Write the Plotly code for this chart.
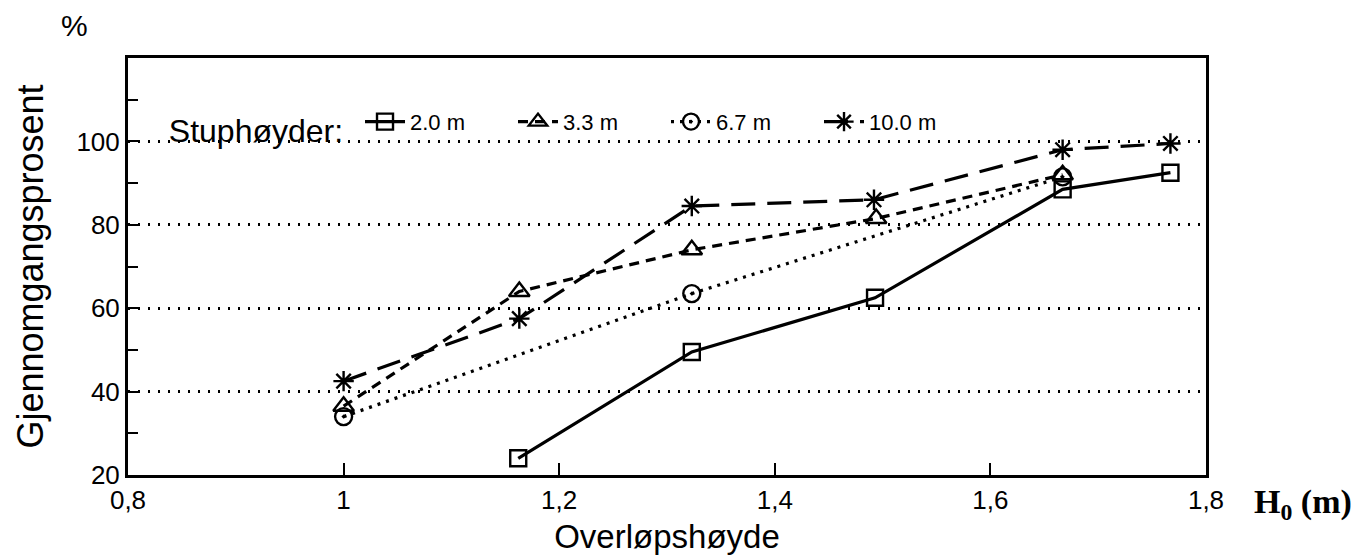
import plotly.graph_objects as go

# ---- data ----
series_names = ["2.0 m", "3.3 m", "6.7 m", "10.0 m"]

x_2_0 = [1.162, 1.323, 1.493, 1.667, 1.767]
y_2_0 = [24.0, 49.5, 62.5, 88.5, 92.5]

x_3_3 = [1.0, 1.163, 1.323, 1.494, 1.667]
y_3_3 = [36.5, 64.0, 74.0, 81.5, 92.0]

x_6_7 = [1.0, 1.323, 1.667]
y_6_7 = [34.0, 63.5, 91.5]

x_10_0 = [1.0, 1.163, 1.323, 1.492, 1.667, 1.767]
y_10_0 = [42.5, 57.5, 84.5, 86.0, 98.0, 99.5]

x_tick_vals = [0.8, 1.0, 1.2, 1.4, 1.6, 1.8]
x_tick_text = ["0,8", "1", "1,2", "1,4", "1,6", "1,8"]
y_tick_vals = [20, 40, 60, 80, 100]
y_minor_vals = [30, 50, 70, 90, 110]

# ---- styles ----
FONT = "Liberation Sans, Arial, Helvetica, sans-serif"
styles = [
    dict(dash="solid", symbol="square-open", size=16),
    dict(dash="10px,7px", symbol="triangle-up-open", size=18),
    dict(dash="3px,6px", symbol="circle-open-dot", size=17),
    dict(dash="24px,12px", symbol="asterisk-open", size=17),
]
xs = [x_2_0, x_3_3, x_6_7, x_10_0]
ys = [y_2_0, y_3_3, y_6_7, y_10_0]

fig = go.Figure()
for name, x, y, st in zip(series_names, xs, ys, styles):
    fig.add_trace(go.Scatter(
        x=x, y=y, name=name, mode="lines+markers",
        line=dict(color="black", width=3.2, dash=st["dash"]),
        marker=dict(symbol=st["symbol"], size=st["size"], color="black",
                    line=dict(color="black", width=2.4)),
    ))

fig.update_layout(
    width=1370, height=559,
    margin=dict(l=128, r=164, t=58, b=84),
    paper_bgcolor="white", plot_bgcolor="white",
    font=dict(family=FONT, color="black"),
    showlegend=True,
    legend=dict(
        orientation="h", x=0.036, y=0.835, xanchor="left", yanchor="middle",
        bgcolor="rgba(0,0,0,0)",
        title=dict(text="Stuphøyder: ", side="left", font=dict(size=32, family=FONT)),
        font=dict(size=22, family=FONT),
        entrywidth=98, entrywidthmode="pixels",
        itemwidth=40,
    ),
    xaxis=dict(
        range=[0.8, 1.8], tickmode="array", tickvals=x_tick_vals, ticktext=x_tick_text,
        ticks="inside", ticklen=12, tickwidth=2, tickcolor="black",
        showline=True, linecolor="black", linewidth=3, mirror=True,
        showgrid=False, zeroline=False,
        tickfont=dict(size=26, family=FONT),
        title=dict(text="Overløpshøyde", font=dict(size=33, family=FONT), standoff=11),
        automargin=False,
    ),
    yaxis=dict(
        range=[20, 120], tickmode="array", tickvals=y_tick_vals,
        ticks="inside", ticklen=12, tickwidth=2, tickcolor="black",
        minor=dict(tickvals=y_minor_vals, ticks="inside", ticklen=10, tickwidth=2, tickcolor="black"),
        showline=True, linecolor="black", linewidth=3, mirror=True,
        showgrid=True, gridcolor="black", gridwidth=2.5, griddash="2px,8px",
        zeroline=False,
        tickfont=dict(size=26, family=FONT),
        title=dict(text="Gjennomgangsprosent", font=dict(size=36, family=FONT), standoff=22),
        automargin=False,
    ),
    annotations=[
        dict(text="%", xref="paper", yref="paper", x=-0.05, y=1.0, yshift=33,
             xanchor="center", yanchor="middle", showarrow=False,
             font=dict(size=30, family=FONT)),
        dict(text="<b>H<sub>0</sub> (m)</b>", xref="paper", yref="paper", x=1.043, y=0.0, yshift=-29,
             xanchor="left", yanchor="middle", showarrow=False,
             font=dict(size=34, family="Liberation Serif, Times New Roman, serif")),
    ],
)

fig.write_html("out.html")
